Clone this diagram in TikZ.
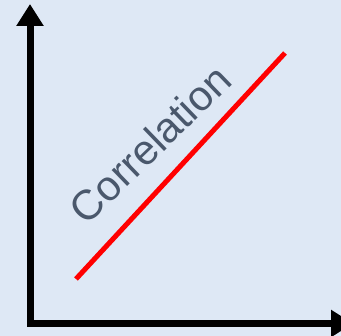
\documentclass[tikz,border=0pt]{standalone}
\usepackage{fontspec}
\setmainfont{Liberation Sans}
\usetikzlibrary{arrows.meta}
\definecolor{bgblue}{RGB}{222,232,245}
\definecolor{txtgray}{RGB}{74,88,108}
\begin{document}
\begin{tikzpicture}[x=1pt,y=1pt,
  axis/.style={line width=7pt,draw=black,-{Triangle[width=26pt,length=22pt]}},
  corr/.style={line width=5pt,draw=red},
  lbl/.style={text=txtgray,font=\fontsize{42}{42}\selectfont,inner sep=0pt}]
\fill[bgblue] (0,0) rectangle (341,336);
\useasboundingbox (0,0) rectangle (341,336);
\coordinate (ybot) at (30,9);
\coordinate (ytop) at (30,332);
\coordinate (xleft) at (27,12.5);
\coordinate (xright) at (353,12.5);
\coordinate (ra) at (76,57);
\coordinate (rb) at (285,283);
\draw[axis] (ybot) -- (ytop);
\draw[axis] (xleft) -- (xright);
\draw[corr] (ra) -- (rb);
\node[lbl,rotate=44] (label) at (150,192) {Correlation};
\end{tikzpicture}
\end{document}
